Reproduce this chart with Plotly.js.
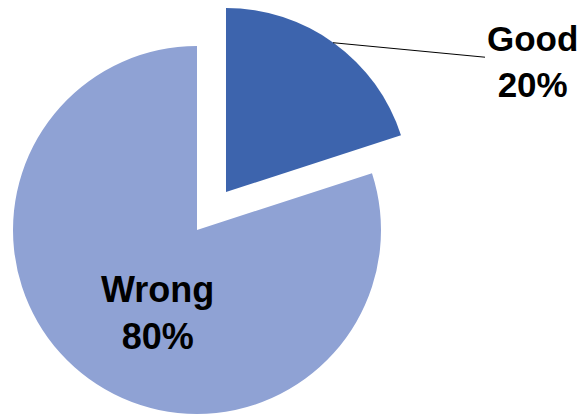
<!DOCTYPE html>
<html>
<head>
<meta charset="utf-8">
<script src="https://cdn.plot.ly/plotly-3.0.1.min.js"></script>
<style>html,body{margin:0;padding:0;background:#fff;}#chart{width:583px;height:415px;}</style>
</head>
<body>
<div id="chart"></div>
<script>
// Data
var labels = ['Good', 'Wrong'];
var values = [20, 80];
var sliceColors = ['#3D64AD', '#8FA2D4'];

var total = values.reduce(function (a, b) { return a + b; }, 0);
var pctText = values.map(function (v) { return Math.round(v / total * 100) + '%'; });
var clear = 'rgba(0,0,0,0)';

// Trace drawing the large slice (centered in its domain)
var wrongTrace = {
  type: 'pie', labels: labels, values: values, sort: false,
  direction: 'clockwise', rotation: 0,
  marker: { colors: [clear, sliceColors[1]], line: { width: 0 } },
  textinfo: 'none', hoverinfo: 'none', showlegend: false,
  domain: { x: [0.0223, 0.6535], y: [0.0024, 0.8892] }
};
// Trace drawing the exploded slice (same data, shifted domain)
var goodTrace = {
  type: 'pie', labels: labels, values: values, sort: false,
  direction: 'clockwise', rotation: 0,
  marker: { colors: [sliceColors[0], clear], line: { width: 0 } },
  textinfo: 'none', hoverinfo: 'none', showlegend: false,
  domain: { x: [0.0720, 0.7033], y: [0.0940, 0.9807] }
};

var fam = 'Liberation Sans, Arial, sans-serif';

var layout = {
  width: 583, height: 415,
  margin: { l: 0, r: 0, t: 0, b: 0 },
  paper_bgcolor: '#fff', plot_bgcolor: '#fff',
  showlegend: false,
  annotations: [
    {
      xref: 'paper', yref: 'paper', x: 0.5712, y: 0.8971,
      text: '<b>' + labels[0] + '<br>' + pctText[0] + '</b>',
      showarrow: true, arrowhead: 0, arrowwidth: 1, arrowcolor: '#000',
      ax: 199, ay: 19, font: { family: fam, size: 35, color: '#000' }, align: 'center'
    },
    {
      xref: 'paper', yref: 'paper', x: 0.2693, y: 0.2458,
      text: '<b>' + labels[1] + '<br>' + pctText[1] + '</b>',
      showarrow: false, font: { family: fam, size: 36, color: '#000' }, align: 'center',
      xanchor: 'center', yanchor: 'middle'
    }
  ]
};

Plotly.newPlot('chart', [wrongTrace, goodTrace], layout, { displayModeBar: false, staticPlot: true });
</script>
</body>
</html>
